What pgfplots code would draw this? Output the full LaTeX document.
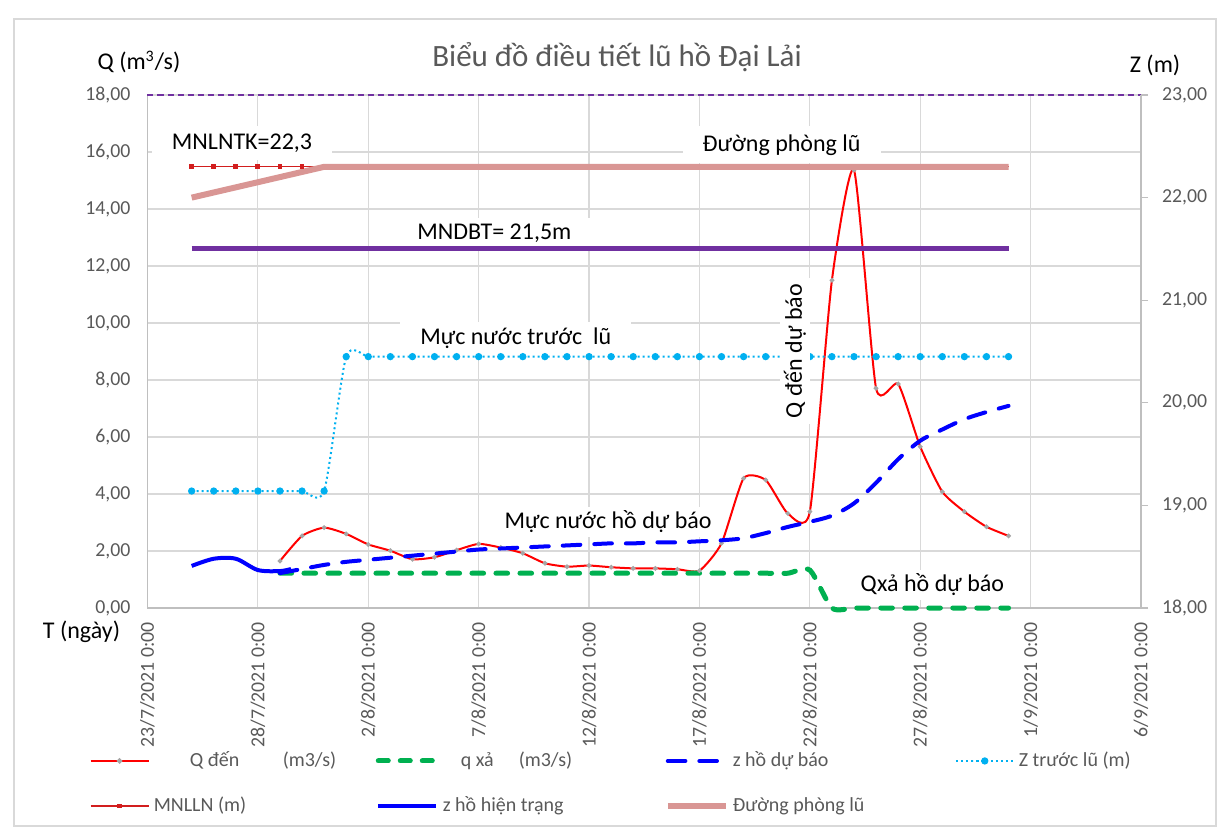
\documentclass[border=0pt]{standalone}
\usepackage{pgfplots}
\pgfplotsset{compat=1.18}
\usepackage{pgfplotstable}
\usepackage{fontspec}
\setmainfont{Carlito}
\definecolor{qred}{RGB}{255,0,0}
\definecolor{qgreen}{RGB}{0,176,80}
\definecolor{zblue}{RGB}{0,0,255}
\definecolor{zcyan}{RGB}{0,176,240}
\definecolor{mnred}{RGB}{210,30,30}
\definecolor{plpink}{RGB}{217,150,148}
\definecolor{mpurple}{RGB}{112,48,160}
\definecolor{gridgray}{RGB}{217,217,217}
\definecolor{axgray}{RGB}{191,191,191}
\definecolor{txtgray}{RGB}{89,89,89}

% Q den (m3/s), day 0 = 23/7/2021
\pgfplotstableread{
day q
6 1.65
7 2.53
8 2.82
9 2.60
10 2.23
11 2.01
12 1.71
13 1.78
14 2.03
15 2.25
16 2.12
17 1.92
18 1.57
19 1.45
20 1.49
21 1.43
22 1.39
23 1.39
24 1.36
25 1.31
26 2.27
27 4.55
28 4.49
29 3.32
30 3.38
31 11.50
32 15.37
33 7.71
34 7.86
35 5.66
36 4.08
37 3.38
38 2.85
39 2.53
}\qden

% q xa (m3/s)
\pgfplotstableread{
day q
6 1.22
7 1.22
8 1.22
9 1.22
10 1.22
11 1.22
12 1.22
13 1.22
14 1.22
15 1.22
16 1.22
17 1.22
18 1.22
19 1.22
20 1.22
21 1.22
22 1.22
23 1.22
24 1.22
25 1.22
26 1.22
27 1.22
28 1.22
29 1.22
30 1.33
31 0
32 0
33 0
34 0
35 0
36 0
37 0
38 0
39 0
}\qxa

% z ho du bao (m)
\pgfplotstableread{
day z
6 18.34
7 18.38
8 18.42
9 18.45
10 18.47
11 18.49
12 18.51
13 18.53
14 18.55
15 18.57
16 18.58
17 18.59
18 18.60
19 18.61
20 18.62
21 18.63
22 18.63
23 18.64
24 18.64
25 18.65
26 18.66
27 18.68
28 18.73
29 18.79
30 18.84
31 18.90
32 19.02
33 19.22
34 19.45
35 19.63
36 19.74
37 19.84
38 19.91
39 19.97
}\zdb

% Z truoc lu (m)
\pgfplotstableread{
day z
2 19.14
3 19.14
4 19.14
5 19.14
6 19.14
7 19.14
8 19.14
9 20.45
10 20.45
11 20.45
12 20.45
13 20.45
14 20.45
15 20.45
16 20.45
17 20.45
18 20.45
19 20.45
20 20.45
21 20.45
22 20.45
23 20.45
24 20.45
25 20.45
26 20.45
27 20.45
28 20.45
29 20.45
30 20.45
31 20.45
32 20.45
33 20.45
34 20.45
35 20.45
36 20.45
37 20.45
38 20.45
39 20.45
}\ztl

% MNLLN (m)
\pgfplotstableread{
day z
2 22.3
3 22.3
4 22.3
5 22.3
6 22.3
7 22.3
8 22.3
9 22.3
10 22.3
11 22.3
12 22.3
13 22.3
14 22.3
15 22.3
16 22.3
17 22.3
18 22.3
19 22.3
20 22.3
21 22.3
22 22.3
23 22.3
24 22.3
25 22.3
26 22.3
27 22.3
28 22.3
29 22.3
30 22.3
31 22.3
32 22.3
33 22.3
34 22.3
35 22.3
36 22.3
37 22.3
38 22.3
39 22.3
}\mnlln

% z ho hien trang (m)
\pgfplotstableread{
day z
2 18.41
3 18.48
4 18.48
5 18.37
6 18.36
6.5 18.38
}\zht

% Duong phong lu (m)
\pgfplotstableread{
day z
2 22.0
8 22.3
39 22.3
}\dpl

\newcommand{\tickfont}{\fontsize{9.9}{11}\selectfont}
\newcommand{\annfont}{\fontsize{12}{14}\selectfont}

\begin{document}
\begin{tikzpicture}
\useasboundingbox (-73.75pt,-110.5pt) rectangle (535.75pt,304pt);
\draw[gridgray, line width=0.75pt] (-66.75pt,-109pt) rectangle (534.25pt,294.5pt);

\begin{axis}[
  at={(0pt,0pt)}, anchor=south west,
  scale only axis, width=496.75pt, height=256.5pt,
  xmin=0, xmax=45, ymin=0, ymax=18,
  axis x line*=bottom, axis y line*=left,
  axis line style={draw=axgray, line width=0.6pt},
  xtick={0,5,...,45},
  xticklabels={23/7/2021 0:00, 28/7/2021 0:00, 2/8/2021 0:00, 7/8/2021 0:00, 12/8/2021 0:00, 17/8/2021 0:00, 22/8/2021 0:00, 27/8/2021 0:00, 1/9/2021 0:00, 6/9/2021 0:00},
  ytick={0,2,...,18},
  grid=major, major grid style={draw=gridgray, line width=0.6pt},
  major tick length=0pt, tick style={draw=none},
  xticklabel style={rotate=90, anchor=east, font=\tickfont, text=txtgray},
  yticklabel style={font=\tickfont, text=txtgray},
  xticklabel shift=3.6pt, yticklabel shift=5pt,
  /pgf/number format/fixed, /pgf/number format/fixed zerofill,
  /pgf/number format/precision=2, /pgf/number format/use comma,
  /pgf/number format/assume math mode=true,
  clip=false,
]
% label boxes (under the series)
\node[fill=white, inner xsep=10pt, inner ysep=4pt, font=\annfont] at (axis cs:4.28,16.32) {MNLNTK=22,3};
\node[fill=white, inner xsep=10pt, inner ysep=4pt, font=\annfont] at (axis cs:28.72,16.25) {Đường phòng lũ};
\node[fill=white, inner xsep=10pt, inner ysep=3pt, font=\annfont] at (axis cs:15.71,13.16) {MNDBT= 21,5m};
\node[fill=white, inner xsep=10pt, inner ysep=3pt, font=\annfont] at (axis cs:16.68,9.47) {Mực nước trước~ lũ};
\node[fill=white, inner xsep=6pt, inner ysep=2pt, font=\annfont] at (axis cs:20.86,3.03) {Mực nước hồ dự báo};
\node[fill=white, inner xsep=6pt, inner ysep=2pt, font=\annfont] at (axis cs:35.55,0.81) {Qxả hồ dự báo};

\addplot[qred, line width=1pt, smooth, tension=0.35, mark=*, mark size=0.6pt, mark options={draw=gray!70, fill=gray!70}] table[x=day, y=q] {\qden};
\addplot[qgreen, line width=2.5pt, smooth, tension=0.4, line cap=round, dash pattern=on 5.8pt off 6.2pt] table[x=day, y=q] {\qxa};
\addplot[mpurple, line width=0.6pt, dash pattern=on 3pt off 2pt, forget plot] coordinates {(0,18) (45,18)};
\end{axis}

\begin{axis}[
  at={(0pt,0pt)}, anchor=south west,
  scale only axis, width=496.75pt, height=256.5pt,
  xmin=0, xmax=45, ymin=18, ymax=23,
  axis x line=none, axis y line*=right,
  axis line style={draw=axgray, line width=0.6pt},
  ytick={18,19,...,23},
  tick align=outside, major tick length=3.5pt,
  tick style={draw=axgray, line width=0.6pt},
  yticklabel style={font=\tickfont, text=txtgray},
  yticklabel shift=3.5pt,
  /pgf/number format/fixed, /pgf/number format/fixed zerofill,
  /pgf/number format/precision=2, /pgf/number format/use comma,
  /pgf/number format/assume math mode=true,
  clip=false,
  legend columns=4,
  legend cell align=left,
  legend style={at={(-0.0589,-0.272)}, anchor=north west, draw=none, fill=none,
    inner sep=0pt, font=\fontsize{10}{12}\selectfont, text=txtgray,
    /tikz/every even column/.append style={column sep=1pt},
    row sep=9.5pt},
  legend image code/.code={\draw[mark repeat=2,mark phase=2,#1] plot coordinates {(0pt,0pt) (14.5pt,0pt) (29pt,0pt)};},
]
\addlegendimage{qred, line width=1.2pt, mark=*, mark size=0.7pt, mark options={draw=gray!70, fill=gray!70}}
\addlegendentry{\makebox[108pt][l]{\hspace{18pt}\makebox[46.5pt][l]{Q đến}(m3/s)}}
\addlegendimage{qgreen, line width=2.5pt, line cap=round, dash pattern=on 5pt off 6pt}
\addlegendentry{\makebox[108pt][l]{\hspace{9pt}\makebox[29pt][l]{q xả}(m3/s)}}

\addplot[zblue, line width=2pt, smooth, line cap=round, dash pattern=on 8.8pt off 7pt] table[x=day, y=z] {\zdb};
\addlegendentry{\makebox[108pt][l]{z hồ dự báo}}
\addplot[zcyan, line width=1pt, smooth, tension=0.4, dash pattern=on 1pt off 1.5pt, mark=*, mark size=1.3pt, mark options={solid, fill=zcyan, draw=zcyan}] table[x=day, y=z] {\ztl};
\addlegendentry{\makebox[108pt][l]{Z trước lũ (m)}}
\addplot[mnred, line width=0.6pt, mark=square*, mark size=0.9pt, mark indices={1,2,3,4,5,6}, mark options={fill=mnred, draw=mnred}, legend image post style={mark indices={2}}] table[x=day, y=z] {\mnlln};
\addlegendentry{\makebox[108pt][l]{MNLLN (m)}}
\addplot[zblue, line width=2pt, smooth] table[x=day, y=z] {\zht};
\addlegendentry{\makebox[108pt][l]{z hồ hiện trạng}}
\addplot[plpink, line width=3pt] table[x=day, y=z] {\dpl};
\addlegendentry{\makebox[108pt][l]{Đường phòng lũ}}
\addplot[mpurple, line width=2.5pt, forget plot] coordinates {(2,21.5) (39,21.5)};
\end{axis}

% annotation over the Z trước lũ line
\node[fill=white, inner xsep=3pt, inner ysep=2pt, rotate=90, font=\annfont] at (323.75pt,128.5pt) {Q đến dự báo};

% titles
\node[font=\fontsize{15.5}{18}\selectfont, text=txtgray] at (234.75pt,275.5pt) {Biểu đồ điều tiết lũ hồ Đại Lải};
\node[font=\annfont] at (-4.25pt,273pt) {Q (m\textsuperscript{3}/s)};
\node[font=\annfont] at (503.75pt,271.5pt) {Z (m)};
\node[font=\annfont] at (-33pt,-12pt) {T (ngày)};
\end{tikzpicture}
\end{document}
